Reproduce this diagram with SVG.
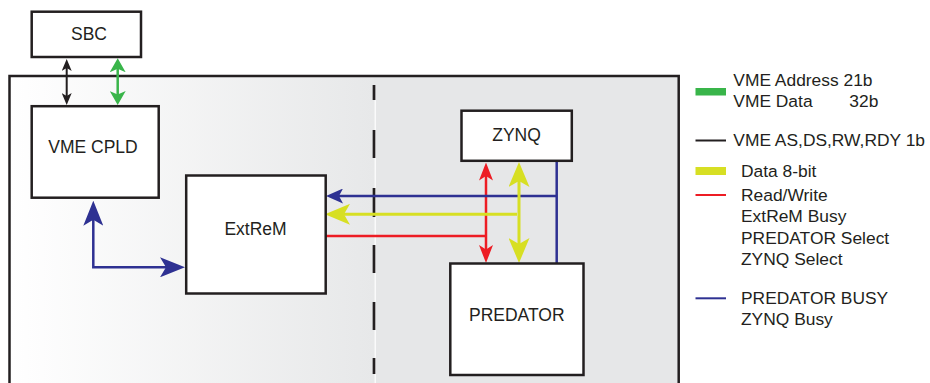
<svg xmlns="http://www.w3.org/2000/svg" width="930" height="383" viewBox="0 0 930 383">
<style>
.box{fill:#fff;stroke:#231f20;stroke-width:2.5}
.lbl{font-family:"Liberation Sans",Arial,sans-serif;font-size:17.5px;fill:#231f20;text-anchor:middle}
.leg{font-family:"Liberation Sans",Arial,sans-serif;font-size:17.4px;fill:#231f20}
.c{fill:none}
</style>
<defs>
<linearGradient id="bg" x1="10" y1="0" x2="374" y2="0" gradientUnits="userSpaceOnUse">
<stop offset="0" stop-color="#ffffff"/>
<stop offset="1" stop-color="#e7e8e9"/>
</linearGradient>
<marker id="mk" markerUnits="userSpaceOnUse" viewBox="0 -5 12 10" markerWidth="12" markerHeight="10" refX="6" refY="0" orient="auto-start-reverse"><path d="M12,0 L0,-5 L3,0 L0,5 Z" fill="#231f20"/></marker>
<marker id="mg" markerUnits="userSpaceOnUse" viewBox="0 -8 14 16" markerWidth="14" markerHeight="16" refX="7" refY="0" orient="auto-start-reverse"><path d="M14,0 L0,-8 L3.5,0 L0,8 Z" fill="#39b54a"/></marker>
<marker id="mbB" markerUnits="userSpaceOnUse" viewBox="0 -10 25 20" markerWidth="25" markerHeight="20" refX="12.5" refY="0" orient="auto-start-reverse"><path d="M25,0 L0,-10 L6,0 L0,10 Z" fill="#2e3192"/></marker>
<marker id="mbS" markerUnits="userSpaceOnUse" viewBox="0 -7.5 17 15" markerWidth="17" markerHeight="15" refX="8.5" refY="0" orient="auto-start-reverse"><path d="M17,0 L0,-7.5 L4,0 L0,7.5 Z" fill="#2e3192"/></marker>
<marker id="mr" markerUnits="userSpaceOnUse" viewBox="0 -7 18 14" markerWidth="18" markerHeight="14" refX="9" refY="0" orient="auto-start-reverse"><path d="M18,0 L0,-7 L4.5,0 L0,7 Z" fill="#ed1c24"/></marker>
<marker id="my" markerUnits="userSpaceOnUse" viewBox="0 -10.5 25 21" markerWidth="25" markerHeight="21" refX="12.5" refY="0" orient="auto-start-reverse"><path d="M25,0 L0,-10.5 L6,0 L0,10.5 Z" fill="#d7df23"/></marker>
</defs>

<g id="frame">
<rect x="10" y="76" width="364" height="320" fill="url(#bg)"/>
<rect x="374" y="76" width="305" height="320" fill="#e6e7e8"/>
<rect x="9.5" y="76" width="669.2" height="330" fill="none" stroke="#231f20" stroke-width="2.5"/>
<line x1="375.2" y1="100" x2="375.2" y2="383" stroke="#ffffff" stroke-width="1.2"/>
<path d="M374 85V100M374 130V158M374 188V217M374 245V273M374 302V330M374 358V374" stroke="#231f20" stroke-width="2.7" fill="none"/>
</g>

<g id="connectors">
<path class="c" d="M66.7,65 V99" stroke="#231f20" stroke-width="2" marker-start="url(#mk)" marker-end="url(#mk)"/>
<path class="c" d="M117.7,65.3 V98" stroke="#39b54a" stroke-width="2.5" marker-start="url(#mg)" marker-end="url(#mg)"/>
<path class="c" d="M93.3,213.2 V267.3 H172.5" stroke="#2e3192" stroke-width="2.5" marker-start="url(#mbB)" marker-end="url(#mbB)"/>
<path class="c" d="M326,236 H486" stroke="#ed1c24" stroke-width="2.5"/>
<path class="c" d="M486,171.5 V254" stroke="#ed1c24" stroke-width="2.5" marker-start="url(#mr)" marker-end="url(#mr)"/>
<path class="c" d="M556.7,161 V263" stroke="#2e3192" stroke-width="2.5"/>
<path class="c" d="M556.7,196 H334.5" stroke="#2e3192" stroke-width="2.5" marker-end="url(#mbS)"/>
<path class="c" d="M517,214.3 H337.5" stroke="#d7df23" stroke-width="3" marker-end="url(#my)"/>
<path class="c" d="M519,174.5 V250.5" stroke="#d7df23" stroke-width="3" marker-start="url(#my)" marker-end="url(#my)"/>
</g>

<g id="sbc">
<rect class="box" x="31.7" y="11.7" width="109.3" height="45.3"/>
<text class="lbl" x="89" y="40">SBC</text>
</g>
<g id="vme-cpld">
<rect class="box" x="31.7" y="106.2" width="127" height="91.5"/>
<text class="lbl" x="93" y="153.3">VME CPLD</text>
</g>
<g id="extrem">
<rect class="box" x="186.2" y="175.5" width="139.5" height="118"/>
<text class="lbl" x="255.5" y="235">ExtReM</text>
</g>
<g id="zynq">
<rect class="box" x="461.5" y="110.7" width="110.3" height="50.1"/>
<text class="lbl" x="516.5" y="141">ZYNQ</text>
</g>
<g id="predator">
<rect class="box" x="450.3" y="263.5" width="133.2" height="111.5"/>
<text class="lbl" x="516.8" y="320.7">PREDATOR</text>
</g>

<g id="legend">
<rect x="695.5" y="88" width="30.5" height="7.5" fill="#39b54a"/>
<text class="leg" x="733.3" y="86">VME Address 21b</text>
<text class="leg" x="733.3" y="107">VME Data</text>
<text class="leg" x="849.3" y="107">32b</text>
<line x1="695.5" y1="140.5" x2="726" y2="140.5" stroke="#231f20" stroke-width="2"/>
<text class="leg" x="733.3" y="146">VME AS,DS,RW,RDY 1b</text>
<rect x="695.5" y="167" width="30.5" height="8" fill="#d7df23"/>
<text class="leg" x="741" y="176.5">Data 8-bit</text>
<line x1="695.5" y1="195" x2="726" y2="195" stroke="#ed1c24" stroke-width="2"/>
<text class="leg" x="741" y="200.7">Read/Write</text>
<text class="leg" x="741" y="222.2">ExtReM Busy</text>
<text class="leg" x="741" y="243.7">PREDATOR Select</text>
<text class="leg" x="741" y="265.2">ZYNQ Select</text>
<line x1="695.5" y1="298.3" x2="726" y2="298.3" stroke="#2e3192" stroke-width="2"/>
<text class="leg" x="741" y="304">PREDATOR BUSY</text>
<text class="leg" x="741" y="325.3">ZYNQ Busy</text>
</g>
</svg>
